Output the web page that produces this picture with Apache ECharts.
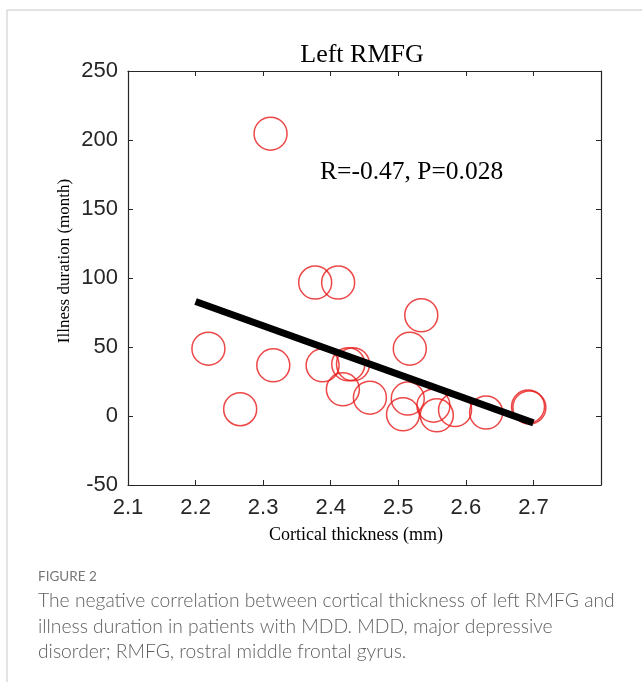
<!DOCTYPE html>
<html>
<head>
<meta charset="utf-8">
<script src="https://cdn.jsdelivr.net/npm/echarts@6/dist/echarts.min.js"></script>
<style>
html,body{margin:0;padding:0;background:#fff;}
#chart{width:642px;height:682px;}
</style>
</head>
<body>
<div id="chart"></div>
<script>
// Data
var thickness = [2.311, 2.219, 2.266, 2.315, 2.377, 2.411, 2.388, 2.426, 2.433, 2.418, 2.458, 2.507, 2.514, 2.517, 2.534, 2.552, 2.557, 2.584, 2.630, 2.692, 2.694];
var duration  = [204.6, 48.8, 4.9, 36.7, 96.7, 96.7, 36.7, 37.5, 37.5, 19.3, 13.3, 1.2, 12.6, 48.8, 73.0, 7.5, 0.5, 4.3, 2.5, 6.8, 6.2];
var fitX = [2.2, 2.7];
var fitY = [83, -5];
var xTicks = [2.1, 2.2, 2.3, 2.4, 2.5, 2.6, 2.7];
var yTicks = [-50, 0, 50, 100, 150, 200, 250];
var titleText = 'Left RMFG';
var statText = 'R=-0.47, P=0.028';
var xName = 'Cortical thickness (mm)';
var yName = 'Illness duration (month)';
var figLabel = 'FIGURE 2';
var captionLines = [
  'The negative correlation between cortical thickness of left RMFG and',
  'illness duration in patients with MDD. MDD, major depressive',
  'disorder; RMFG, rostral middle frontal gyrus.'
];

var scatterData = thickness.map(function (x, i) { return [x, duration[i]]; });
var fitData = fitX.map(function (x, i) { return [x, fitY[i]]; });

var axisColor = '#262626';
var sansTick = 'Liberation Sans, Arial, sans-serif';
var serif = 'Liberation Serif, Times New Roman, serif';
var capFont = 'Lato, "Open Sans", sans-serif';

var chart = echarts.init(document.getElementById('chart'), null, {renderer: 'canvas'});

var captionGraphics = captionLines.map(function (t, i) {
  return {
    type: 'text', x: 38, y: 601 + i * 25.5,
    style: { text: t, font: '300 19.3px ' + capFont, fill: '#5f5f5f', textAlign: 'left', textVerticalAlign: 'middle' }
  };
});

function axisCommon() {
  return {
    axisLine: { show: true, onZero: false, lineStyle: { color: axisColor, width: 1.2 } },
    axisTick: { show: true, inside: true, length: 5, lineStyle: { color: axisColor } },
    splitLine: { show: false }
  };
}

chart.setOption({
  animation: false,
  backgroundColor: '#ffffff',
  grid: { left: 128, top: 71, width: 473, height: 414, containLabel: false },
  xAxis: [Object.assign(axisCommon(), {
    type: 'value', min: 2.1, max: 2.8, interval: 0.1, position: 'bottom',
    axisLabel: {
      margin: 12, color: axisColor, fontSize: 22, fontFamily: sansTick,
      formatter: function (v) {
        var hit = xTicks.filter(function (t) { return Math.abs(t - v) < 1e-6; });
        return hit.length ? hit[0].toFixed(1) : '';
      }
    }
  }), Object.assign(axisCommon(), {
    type: 'value', min: 2.1, max: 2.8, interval: 0.1, position: 'top',
    axisLabel: { show: false }
  })],
  yAxis: [Object.assign(axisCommon(), {
    type: 'value', min: -50, max: 250, interval: 50, position: 'left',
    axisLabel: {
      margin: 10, color: axisColor, fontSize: 22, fontFamily: sansTick,
      formatter: function (v) {
        var hit = yTicks.filter(function (t) { return Math.abs(t - v) < 1e-6; });
        return hit.length ? String(hit[0]) : '';
      }
    }
  }), Object.assign(axisCommon(), {
    type: 'value', min: -50, max: 250, interval: 50, position: 'right',
    axisLabel: { show: false }
  })],
  series: [{
    type: 'scatter', xAxisIndex: 0, yAxisIndex: 0,
    data: scatterData, symbol: 'circle', symbolSize: 33,
    itemStyle: { color: 'rgba(0,0,0,0)', borderColor: '#e81a1a', borderWidth: 1.5 },
    z: 2
  }, {
    type: 'line', xAxisIndex: 0, yAxisIndex: 0,
    data: fitData, showSymbol: false, symbol: 'none',
    lineStyle: { color: '#000000', width: 7, cap: 'butt' },
    z: 3
  }],
  graphic: [
    { type: 'text', x: 362, y: 55, style: { text: titleText, font: '26px ' + serif, fill: '#000', textAlign: 'center', textVerticalAlign: 'middle' } },
    { type: 'text', x: 320, y: 172, style: { text: statText, font: '25.5px ' + serif, fill: '#000', textAlign: 'left', textVerticalAlign: 'middle' } },
    { type: 'text', x: 356, y: 535, style: { text: xName, font: '18px ' + serif, fill: '#000', textAlign: 'center', textVerticalAlign: 'middle' } },
    { type: 'text', x: 65, y: 261, rotation: Math.PI / 2, style: { text: yName, font: '17px ' + serif, fill: '#000', textAlign: 'center', textVerticalAlign: 'middle' } },
    { type: 'line', shape: { x1: 7, y1: 10, x2: 642, y2: 10 }, style: { stroke: '#c8c8c8', lineWidth: 1 } },
    { type: 'line', shape: { x1: 7, y1: 10, x2: 7, y2: 682 }, style: { stroke: '#c8c8c8', lineWidth: 1 } },
    { type: 'text', x: 38, y: 577, style: { text: figLabel, font: '13.5px ' + capFont, fill: '#777777', textAlign: 'left', textVerticalAlign: 'middle' } }
  ].concat(captionGraphics)
});
</script>
</body>
</html>
